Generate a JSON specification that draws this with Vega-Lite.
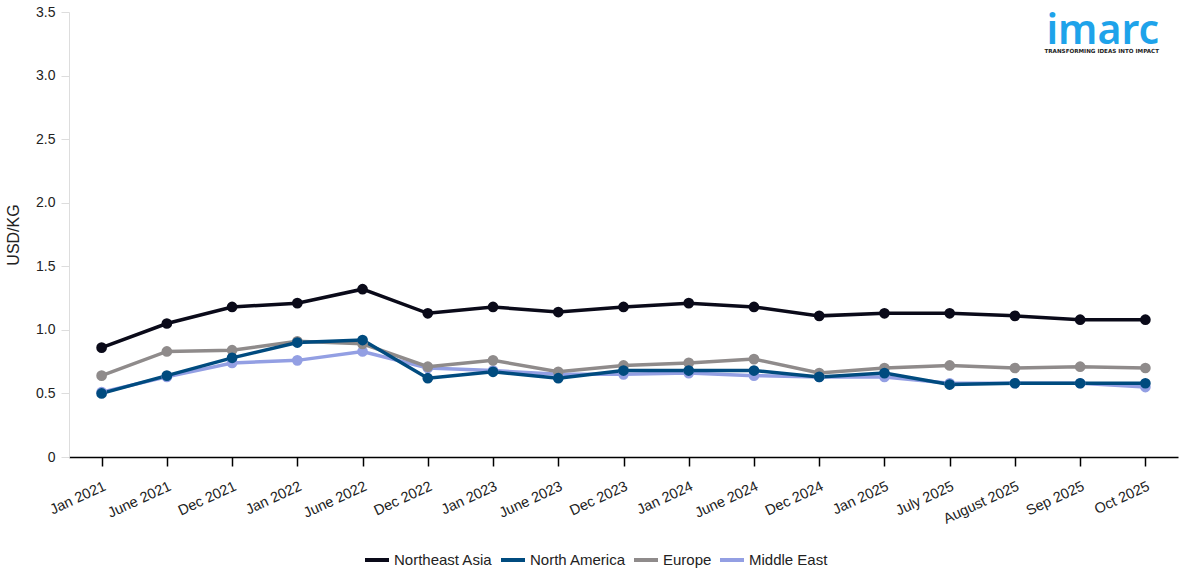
{
  "$schema": "https://vega.github.io/schema/vega-lite/v6.json",
  "autosize": "none",
  "width": 1109,
  "height": 445,
  "padding": {"left": 69, "top": 12, "right": 9, "bottom": 124},
  "background": "white",
  "config": {"font": "Liberation Sans", "view": {"stroke": null}},
  "title": {
    "text": "imarc",
    "subtitle": "TRANSFORMING IDEAS INTO IMPACT",
    "anchor": "end",
    "frame": "group",
    "orient": "top",
    "offset": -51,
    "dx": -19,
    "font": "Noto Sans",
    "fontSize": 41,
    "fontWeight": 600,
    "color": "#1ea3ea",
    "subtitleFont": "DejaVu Sans",
    "subtitleFontSize": 5.6,
    "subtitleFontWeight": "bold",
    "subtitleColor": "#222222",
    "subtitlePadding": -4
  },
  "data": {
    "values": [
      {"date": "Jan 2021", "region": "Middle East", "value": 0.51},
      {"date": "June 2021", "region": "Middle East", "value": 0.63},
      {"date": "Dec 2021", "region": "Middle East", "value": 0.74},
      {"date": "Jan 2022", "region": "Middle East", "value": 0.76},
      {"date": "June 2022", "region": "Middle East", "value": 0.83},
      {"date": "Dec 2022", "region": "Middle East", "value": 0.70},
      {"date": "Jan 2023", "region": "Middle East", "value": 0.68},
      {"date": "June 2023", "region": "Middle East", "value": 0.65},
      {"date": "Dec 2023", "region": "Middle East", "value": 0.65},
      {"date": "Jan 2024", "region": "Middle East", "value": 0.66},
      {"date": "June 2024", "region": "Middle East", "value": 0.64},
      {"date": "Dec 2024", "region": "Middle East", "value": 0.63},
      {"date": "Jan 2025", "region": "Middle East", "value": 0.63},
      {"date": "July 2025", "region": "Middle East", "value": 0.58},
      {"date": "August 2025", "region": "Middle East", "value": 0.58},
      {"date": "Sep 2025", "region": "Middle East", "value": 0.58},
      {"date": "Oct 2025", "region": "Middle East", "value": 0.55},

      {"date": "Jan 2021", "region": "Europe", "value": 0.64},
      {"date": "June 2021", "region": "Europe", "value": 0.83},
      {"date": "Dec 2021", "region": "Europe", "value": 0.84},
      {"date": "Jan 2022", "region": "Europe", "value": 0.91},
      {"date": "June 2022", "region": "Europe", "value": 0.89},
      {"date": "Dec 2022", "region": "Europe", "value": 0.71},
      {"date": "Jan 2023", "region": "Europe", "value": 0.76},
      {"date": "June 2023", "region": "Europe", "value": 0.67},
      {"date": "Dec 2023", "region": "Europe", "value": 0.72},
      {"date": "Jan 2024", "region": "Europe", "value": 0.74},
      {"date": "June 2024", "region": "Europe", "value": 0.77},
      {"date": "Dec 2024", "region": "Europe", "value": 0.66},
      {"date": "Jan 2025", "region": "Europe", "value": 0.70},
      {"date": "July 2025", "region": "Europe", "value": 0.72},
      {"date": "August 2025", "region": "Europe", "value": 0.70},
      {"date": "Sep 2025", "region": "Europe", "value": 0.71},
      {"date": "Oct 2025", "region": "Europe", "value": 0.70},

      {"date": "Jan 2021", "region": "North America", "value": 0.50},
      {"date": "June 2021", "region": "North America", "value": 0.64},
      {"date": "Dec 2021", "region": "North America", "value": 0.78},
      {"date": "Jan 2022", "region": "North America", "value": 0.90},
      {"date": "June 2022", "region": "North America", "value": 0.92},
      {"date": "Dec 2022", "region": "North America", "value": 0.62},
      {"date": "Jan 2023", "region": "North America", "value": 0.67},
      {"date": "June 2023", "region": "North America", "value": 0.62},
      {"date": "Dec 2023", "region": "North America", "value": 0.68},
      {"date": "Jan 2024", "region": "North America", "value": 0.68},
      {"date": "June 2024", "region": "North America", "value": 0.68},
      {"date": "Dec 2024", "region": "North America", "value": 0.63},
      {"date": "Jan 2025", "region": "North America", "value": 0.66},
      {"date": "July 2025", "region": "North America", "value": 0.57},
      {"date": "August 2025", "region": "North America", "value": 0.58},
      {"date": "Sep 2025", "region": "North America", "value": 0.58},
      {"date": "Oct 2025", "region": "North America", "value": 0.58},

      {"date": "Jan 2021", "region": "Northeast Asia", "value": 0.86},
      {"date": "June 2021", "region": "Northeast Asia", "value": 1.05},
      {"date": "Dec 2021", "region": "Northeast Asia", "value": 1.18},
      {"date": "Jan 2022", "region": "Northeast Asia", "value": 1.21},
      {"date": "June 2022", "region": "Northeast Asia", "value": 1.32},
      {"date": "Dec 2022", "region": "Northeast Asia", "value": 1.13},
      {"date": "Jan 2023", "region": "Northeast Asia", "value": 1.18},
      {"date": "June 2023", "region": "Northeast Asia", "value": 1.14},
      {"date": "Dec 2023", "region": "Northeast Asia", "value": 1.18},
      {"date": "Jan 2024", "region": "Northeast Asia", "value": 1.21},
      {"date": "June 2024", "region": "Northeast Asia", "value": 1.18},
      {"date": "Dec 2024", "region": "Northeast Asia", "value": 1.11},
      {"date": "Jan 2025", "region": "Northeast Asia", "value": 1.13},
      {"date": "July 2025", "region": "Northeast Asia", "value": 1.13},
      {"date": "August 2025", "region": "Northeast Asia", "value": 1.11},
      {"date": "Sep 2025", "region": "Northeast Asia", "value": 1.08},
      {"date": "Oct 2025", "region": "Northeast Asia", "value": 1.08}
    ]
  },
  "mark": {
    "type": "line",
    "strokeWidth": 3.5,
    "point": {"filled": true, "size": 115, "opacity": 1}
  },
  "encoding": {
    "x": {
      "field": "date",
      "type": "nominal",
      "sort": ["Jan 2021", "June 2021", "Dec 2021", "Jan 2022", "June 2022", "Dec 2022", "Jan 2023", "June 2023", "Dec 2023", "Jan 2024", "June 2024", "Dec 2024", "Jan 2025", "July 2025", "August 2025", "Sep 2025", "Oct 2025"],
      "scale": {"type": "point", "padding": 0.5},
      "axis": {
        "title": null,
        "labelAngle": -25,
        "labelAlign": "right",
        "labelBaseline": "top",
        "labelFontSize": 14.5,
        "labelColor": "#222222",
        "labelPadding": 13,
        "domainColor": "#000000",
        "domainWidth": 1.5,
        "tickColor": "#000000",
        "tickWidth": 1.5,
        "tickSize": 9,
        "grid": false
      }
    },
    "y": {
      "field": "value",
      "type": "quantitative",
      "scale": {"domain": [0, 3.5], "nice": false},
      "axis": {
        "title": "USD/KG",
        "titleFontSize": 16,
        "titleFontWeight": "normal",
        "titleColor": "#222222",
        "titlePadding": 14,
        "values": [0, 0.5, 1, 1.5, 2, 2.5, 3, 3.5],
        "labelExpr": "datum.value == 0 ? '0' : format(datum.value, '.1f')",
        "labelFontSize": 14,
        "labelColor": "#222222",
        "labelPadding": 6,
        "domainColor": "#dddddd",
        "tickColor": "#dddddd",
        "tickSize": 8,
        "grid": false
      }
    },
    "color": {
      "field": "region",
      "type": "nominal",
      "scale": {
        "domain": ["Northeast Asia", "North America", "Europe", "Middle East"],
        "range": ["#0a0a19", "#004b7f", "#8f8b8b", "#939fe3"]
      },
      "legend": {
        "title": null,
        "orient": "none",
        "legendX": 294,
        "legendY": 534,
        "direction": "horizontal",
        "symbolType": "stroke",
        "symbolStrokeWidth": 4,
        "symbolSize": 576,
        "labelFontSize": 15,
        "labelColor": "#222222",
        "labelOffset": 3,
        "columnPadding": 0
      }
    }
  }
}
